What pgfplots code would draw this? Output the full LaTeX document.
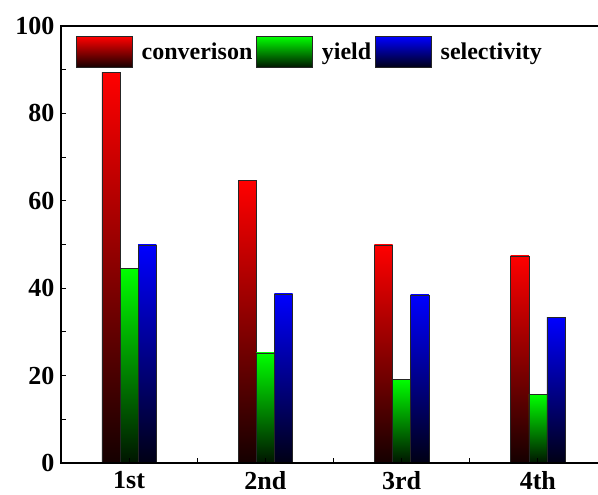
\documentclass[border=0pt]{standalone}
\usepackage{fontspec}
\setmainfont{Liberation Serif}
\usepackage{pgfplots}
\pgfplotsset{compat=1.18}
\pgfplotsset{
  rbar/.style={bar shift=-0.1336, draw=black!85, line width=0.5pt, shading=axis, top color=red, middle color=red!70!black, bottom color=red!8!black},
  gbar/.style={bar shift=0, draw=black!85, line width=0.5pt, shading=axis, top color=green, middle color=green!70!black, bottom color=green!8!black},
  bbar/.style={bar shift=0.1336, draw=black!85, line width=0.5pt, shading=axis, top color=blue, middle color=blue!70!black, bottom color=blue!8!black},
}
\begin{document}
\begin{tikzpicture}
\useasboundingbox (-61pt,-32pt) rectangle (537pt,463pt);
\begin{axis}[
  scale only axis, width=545pt, height=437pt,
  at={(0pt,0pt)}, anchor=south west,
  xmin=-0.5, xmax=3.5, ymin=0, ymax=100,
  ybar=0pt, bar width=0.1336,
  xtick={0,1,2,3}, xticklabels={1st,2nd,3rd,4th},
  minor xtick={0.5,1.5,2.5},
  ytick={0,20,40,60,80,100}, minor ytick={10,30,50,70,90},
  tick pos=left, tick align=inside,
  major tick length=5pt, minor tick length=5pt,
  every tick/.style={black, line width=0.9pt},
  axis line style={line width=1.1pt},
  axis on top,
  /pgf/number format/assume math mode=true,
  tick label style={font=\fontsize{26}{26}\selectfont\bfseries},
  yticklabel style={xshift=-3pt},
  xticklabel style={yshift=-5pt},
  legend style={at={(0.0275,0.977)}, anchor=north west, draw=none, fill=none,
    font=\fontsize{24}{24}\selectfont\bfseries, inner sep=0pt,
    /tikz/every even column/.append style={column sep=2pt},
    /tikz/every odd column/.append style={column sep=7pt},
    nodes={inner sep=2pt}},
  legend columns=3,
  legend image code/.code={\draw[#1] (0pt,-15.5pt) rectangle (56pt,15.5pt);},
]
\addplot[rbar] coordinates {(0,89.4)};
\addplot[gbar] coordinates {(0,44.6)};
\addplot[bbar] coordinates {(0,49.9)};
\addplot[rbar, forget plot] coordinates {(1,64.6)};
\addplot[rbar, forget plot] coordinates {(2,49.9)};
\addplot[rbar, forget plot] coordinates {(3,47.4)};
\addplot[gbar, forget plot] coordinates {(1,25.2)};
\addplot[gbar, forget plot] coordinates {(2,19.2)};
\addplot[gbar, forget plot] coordinates {(3,15.7)};
\addplot[bbar, forget plot] coordinates {(1,38.7)};
\addplot[bbar, forget plot] coordinates {(2,38.5)};
\addplot[bbar, forget plot] coordinates {(3,33.3)};
\legend{converison,yield,selectivity}
\end{axis}
\end{tikzpicture}
\end{document}
